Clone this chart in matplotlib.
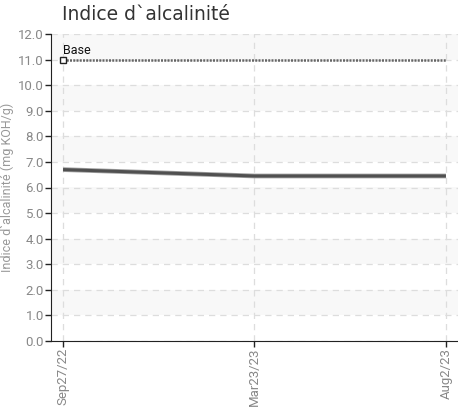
import matplotlib.pyplot as plt
import matplotlib.patheffects as pe

# -------------------------------
# Data
# -------------------------------
dates = ["Sep27/22", "Mar23/23", "Aug2/23"]
alcalinity = [6.7, 6.45, 6.45]
base_value = [11.0, 11.0, 11.0]
y_ticks = [0, 1, 2, 3, 4, 5, 6, 7, 8, 9, 10, 11, 12]

x = list(range(len(dates)))

# -------------------------------
# Figure
# -------------------------------
fig = plt.figure(figsize=(4.58, 4.12), dpi=100)
ax = fig.add_axes([51 / 458, 1 - 341 / 412, 1 - 51 / 458, (341 - 34) / 412])

# alternating bands
for lo in y_ticks[1::2]:
    ax.axhspan(lo, lo + 1, color="#f8f8f8", zorder=0, lw=0)

ax.grid(True, linestyle=(0, (5, 4)), color="#dddddd", lw=0.9, zorder=1)

# base line
ax.plot(x, base_value, linestyle=(0, (0.8, 0.5)), color="#666666", lw=1.8, zorder=3)
ax.plot(x[0], base_value[0], marker="s", ms=4, mfc="white", mec="#222222", mew=1, zorder=4)
ax.text(x[0], base_value[0] + 0.12, "Base", fontsize=9, family="Roboto",
        color="#111111", ha="left", va="bottom")

# main series
ax.plot(x, alcalinity, color="#505050", lw=2.2, zorder=5, solid_capstyle="butt",
        path_effects=[pe.Stroke(linewidth=3.4, foreground="#a0a0a0"), pe.Normal()])

ax.set_xlim(-0.063, 2.063)
ax.set_ylim(0, 12)
ax.set_yticks(y_ticks)
ax.set_yticklabels([f"{v:.1f}" for v in y_ticks])
ax.set_xticks(x)
ax.set_xticklabels(dates, rotation=90)

for lbl in ax.get_xticklabels() + ax.get_yticklabels():
    lbl.set_family("Roboto")
    lbl.set_fontsize(9.5)
    lbl.set_color("#888888")

ax.tick_params(direction="out", length=4, width=1, color="#222222", pad=1)
ax.spines["top"].set_visible(False)
ax.spines["right"].set_visible(False)
ax.spines["left"].set_color("#222222")
ax.spines["bottom"].set_color("#222222")

ax.set_ylabel("Indice d`alcalinité (mg KOH/g)", fontsize=9, family="Roboto",
              color="#999999", labelpad=3)

fig.text(62 / 458, 1 - 14 / 412, "Indice d`alcalinité", fontsize=13.5,
         family="DejaVu Sans", color="#333333", ha="left", va="center")

fig.savefig("out.png", dpi=100)
